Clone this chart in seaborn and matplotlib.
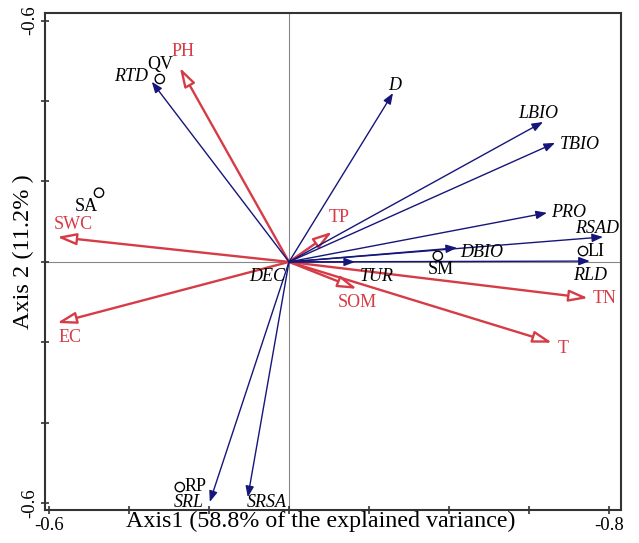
import matplotlib
matplotlib.use("Agg")
import matplotlib.pyplot as plt
import seaborn as sns
import pandas as pd

# ---- data ----
resp_names = ["RTD", "D", "LBIO", "TBIO", "PRO", "RSAD", "DBIO", "RLD", "TUR", "SRL", "SRSA"]
resp_x = [-0.343, 0.260, 0.635, 0.665, 0.645, 0.785, 0.420, 0.752, 0.165, -0.198, -0.103]
resp_y = [0.448, 0.420, 0.348, 0.296, 0.122, 0.062, 0.035, 0.002, 0.000, -0.597, -0.585]

env_names = ["PH", "SWC", "EC", "TP", "SOM", "TN", "T"]
env_x = [-0.273, -0.580, -0.580, 0.108, 0.170, 0.748, 0.658]
env_y = [0.483, 0.062, -0.152, 0.075, -0.067, -0.090, -0.201]

site_names = ["QV", "SA", "SM", "LI", "RP"]
site_x = [-0.323, -0.475, 0.372, 0.735, -0.273]
site_y = [0.455, 0.172, 0.015, 0.027, -0.560]

dec_label = "DEC"
x_tick_vals = [-0.6, -0.4, -0.2, 0.0, 0.2, 0.4, 0.6, 0.8]
x_tick_labels = ["-0.6", "", "", "", "", "", "", "-0.8"]
y_tick_vals = [-0.6, -0.4, -0.2, 0.0, 0.2, 0.4, 0.6]
y_tick_labels = ["-0.6", "", "", "", "", "", "-0.6"]
xlabel = "Axis1 (58.8% of the explained variance)"
ylabel = "Axis 2 (11.2% )"

# ---- label placement (pixel offsets, alignment) ----
resp_lab = {
    "RTD": (-4, 5, "right", "center"),
    "D": (2, 8, "center", "center"),
    "LBIO": (-5, 8, "center", "center"),
    "TBIO": (5, -2, "left", "center"),
    "PRO": (4, 0, "left", "center"),
    "RSAD": (-6, 8, "center", "center"),
    "DBIO": (3, -5, "left", "center"),
    "RLD": (0, -14, "center", "center"),
    "TUR": (22, -15, "center", "center"),
    "SRL": (-6, -1, "right", "center"),
    "SRSA": (-1, -5, "left", "center"),
}
env_lab = {
    "PH": (3, 16, "center", "center"),
    "SWC": (16, 12, "center", "center"),
    "EC": (13, -14, "center", "center"),
    "TP": (7, 14, "center", "center"),
    "SOM": (0, -14, "center", "center"),
    "TN": (4, 0, "left", "center"),
    "T": (5, -6, "left", "center"),
}
site_lab = {
    "QV": (0, 14, "center", "center"),
    "SA": (-1, -14, "right", "center"),
    "SM": (3, -14, "center", "center"),
    "LI": (5, 0, "left", "center"),
    "RP": (5, 1, "left", "center"),
}

BLUE = "#16167A"
RED = "#D63C46"

sns.set_style("ticks")
plt.rcParams["font.family"] = ["Liberation Serif", "DejaVu Serif"]

fig = plt.figure(figsize=(6.39, 5.43), dpi=100)
ax = fig.add_axes([45 / 639, 33 / 543, 576 / 639, 497 / 543])
ax.set_xlim(-0.61, 0.83)
ax.set_ylim(-0.617, 0.619)

ax.axvline(0, color="#888888", lw=0.8, zorder=0)
ax.axhline(0, color="#888888", lw=0.8, zorder=0)

# environmental arrows (open heads)
for n, x, y in zip(env_names, env_x, env_y):
    ax.annotate("", xy=(x, y), xytext=(0, 0),
                arrowprops=dict(arrowstyle="-|>,head_length=1.15,head_width=0.35",
                                fc="white", ec=RED, lw=1.7, shrinkA=0, shrinkB=0,
                                mutation_scale=10), zorder=2)
    dx, dy, ha, va = env_lab[n]
    ax.annotate(n, xy=(x, y), xytext=(dx, dy), textcoords="offset pixels",
                ha=ha, va=va, color=RED, fontsize=13, zorder=4)

# response arrows (filled heads)
for n, x, y in zip(resp_names, resp_x, resp_y):
    ax.annotate("", xy=(x, y), xytext=(0, 0),
                arrowprops=dict(arrowstyle="-|>,head_length=0.65,head_width=0.25",
                                fc=BLUE, ec=BLUE, lw=1.0, shrinkA=0, shrinkB=0,
                                mutation_scale=10), zorder=3)
    dx, dy, ha, va = resp_lab[n]
    ax.annotate(n, xy=(x, y), xytext=(dx, dy), textcoords="offset pixels",
                ha=ha, va=va, color="black", fontsize=13, style="italic", zorder=4)

ax.annotate(dec_label, xy=(0, 0), xytext=(-4, -15), textcoords="offset pixels",
            ha="right", va="center", color="black", fontsize=13, style="italic", zorder=4)

# sites
sites = pd.DataFrame({"name": site_names, "x": site_x, "y": site_y})
sns.scatterplot(data=sites, x="x", y="y", marker="o", s=45, facecolor="none",
                edgecolor="black", linewidth=1.0, ax=ax, zorder=5)
for n, x, y in zip(site_names, site_x, site_y):
    dx, dy, ha, va = site_lab[n]
    ax.annotate(n, xy=(x, y), xytext=(dx, dy), textcoords="offset pixels",
                ha=ha, va=va, color="black", fontsize=13, zorder=5)

ax.set_xticks(x_tick_vals)
ax.set_xticklabels(x_tick_labels, fontsize=13.5)
ax.set_yticks(y_tick_vals)
ax.set_yticklabels(y_tick_labels, fontsize=13.5, rotation=90, va="center")
ax.tick_params(direction="inout", length=6, width=1.2, colors="#333333",
               labelcolor="black", pad=2)
for sp in ax.spines.values():
    sp.set_linewidth(1.5)
    sp.set_color("#333333")

ax.set_xlabel(xlabel, fontsize=17.3, va="center", color="black")
ax.set_ylabel(ylabel, fontsize=17.5, va="center", color="black")
ax.xaxis.set_label_coords(0.478, -0.022)
ax.yaxis.set_label_coords(-0.037, 0.52)

fig.savefig("out.png", dpi=100, facecolor="white")
